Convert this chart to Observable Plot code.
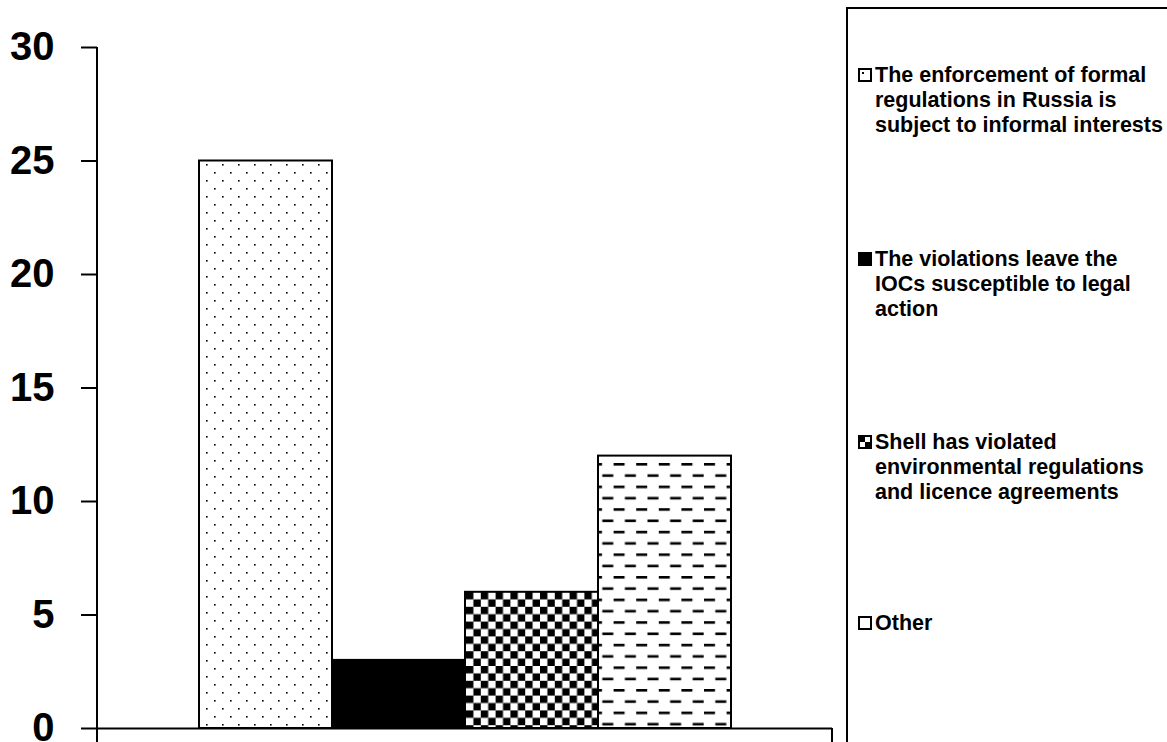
<!DOCTYPE html>
<html>
<head>
<meta charset="utf-8">
<script src="https://cdn.jsdelivr.net/npm/d3@7"></script>
<script src="https://cdn.jsdelivr.net/npm/@observablehq/plot@0.6"></script>
<style>
  html, body { margin: 0; padding: 0; background: #fff; }
  #wrap { position: relative; width: 1167px; height: 742px; overflow: hidden; background: #fff;
          font-family: "Liberation Sans", Arial, sans-serif; }
  #chart { position: absolute; left: 0; top: 0; }
  #legend { position: absolute; left: 846px; top: 7px; width: 340px; height: 760px;
            border-left: 2px solid #000; border-top: 2px solid #000; box-sizing: border-box; }
  .entry { position: absolute; left: 10px; font-weight: bold; font-size: 21.5px; line-height: 25px; color: #000; }
  .entry svg { position: absolute; left: 0; top: 5px; }
  .entry .txt { margin-left: 17px; white-space: nowrap; }
</style>
</head>
<body>
<div id="wrap">
  <div id="chart"></div>
  <div id="legend"></div>
</div>
<script>
// ---- data ----
const series = [
  "The enforcement of formal regulations in Russia is subject to informal interests",
  "The violations leave the IOCs susceptible to legal action",
  "Shell has violated environmental regulations and licence agreements",
  "Other"
];
const values = [25, 3, 6, 12];
const legendLines = [
  ["The enforcement of formal", "regulations in Russia is", "subject to informal interests"],
  ["The violations leave the", "IOCs susceptible to legal", "action"],
  ["Shell has violated", "environmental regulations", "and licence agreements"],
  ["Other"]
];
const yTicks = [0, 5, 10, 15, 20, 25, 30];
const fills = ["url(#p-dots)", "#000", "url(#p-check)", "url(#p-dash)"];

const data = series.map((s, i) => ({series: s, value: values[i]}));

const svg = Plot.plot({
  width: 847,
  height: 742,
  marginLeft: 97,
  marginRight: 15,
  marginTop: 47,
  marginBottom: 14,
  style: {fontFamily: "'Liberation Sans', Arial, sans-serif", background: "#fff", color: "#000"},
  x: {type: "band", domain: series, padding: 0, insetLeft: 100, insetRight: 100, axis: null},
  y: {domain: [0, 30]},
  color: {type: "ordinal", domain: series, range: fills},
  marks: [
    Plot.barY(data, {x: "series", y: "value", fill: "series", stroke: "#000", strokeWidth: 2}),
    Plot.ruleY([0], {stroke: "#000", strokeWidth: 2}),
    Plot.axisY({ticks: yTicks, label: null, tickSize: 16, tickPadding: 27, fontSize: 40, fontWeight: "bold",
                stroke: "#000", strokeWidth: 2, fill: "#000"})
  ]
});

// patterns and axis chrome
const s = d3.select(svg);
const defs = s.insert("defs", ":first-child");
// dots
const pd = defs.append("pattern").attr("id", "p-dots").attr("patternUnits", "userSpaceOnUse")
  .attr("width", 16).attr("height", 16).attr("x", 206).attr("y", 164);
pd.append("rect").attr("width", 16).attr("height", 16).attr("fill", "#fff");
pd.append("rect").attr("x", 0).attr("y", 0).attr("width", 1.6).attr("height", 1.6).attr("fill", "#000");
pd.append("rect").attr("x", 8).attr("y", 8).attr("width", 1.6).attr("height", 1.6).attr("fill", "#000");
// checker
const c = 7.4;
const pc = defs.append("pattern").attr("id", "p-check").attr("patternUnits", "userSpaceOnUse")
  .attr("width", 2 * c).attr("height", 2 * c).attr("x", 466).attr("y", 592);
pc.append("rect").attr("width", 2 * c).attr("height", 2 * c).attr("fill", "#fff");
pc.append("rect").attr("x", 0).attr("y", 0).attr("width", c).attr("height", c).attr("fill", "#000");
pc.append("rect").attr("x", c).attr("y", c).attr("width", c).attr("height", c).attr("fill", "#000");
// dashes
const dw = 22.6;
const pdash = defs.append("pattern").attr("id", "p-dash").attr("patternUnits", "userSpaceOnUse")
  .attr("width", dw).attr("height", dw).attr("x", 591).attr("y", 463);
pdash.append("rect").attr("width", dw).attr("height", dw).attr("fill", "#fff");
pdash.append("rect").attr("x", 0).attr("y", 0).attr("width", 11).attr("height", 2.6).attr("fill", "#000");
pdash.append("rect").attr("x", dw / 2).attr("y", dw / 2).attr("width", 11).attr("height", 2.6).attr("fill", "#000");

const yScale = svg.scale("y");
const y0 = yScale.apply(0);
const yTop = yScale.apply(30);
const xLeft = 97, xRight = 847 - 15;
s.append("line").attr("x1", xLeft).attr("x2", xLeft).attr("y1", yTop).attr("y2", 742)
  .attr("stroke", "#000").attr("stroke-width", 2);
s.append("line").attr("x1", xRight).attr("x2", xRight).attr("y1", y0).attr("y2", 742)
  .attr("stroke", "#000").attr("stroke-width", 2);

document.getElementById("chart").appendChild(svg);

// legend
const legend = d3.select("#legend");
const tops = [54, 238, 421, 602];
legendLines.forEach((lines, i) => {
  const e = legend.append("div").attr("class", "entry").style("top", tops[i] + "px");
  const ic = e.append("svg").attr("width", 14).attr("height", 14);
  ic.append("rect").attr("x", 1).attr("y", 1).attr("width", 12).attr("height", 12)
    .attr("fill", i === 1 ? "#000" : "#fff").attr("stroke", "#000").attr("stroke-width", 2);
  if (i === 0) ic.append("rect").attr("x", 4).attr("y", 4).attr("width", 2).attr("height", 2).attr("fill", "#000");
  if (i === 2) {
    ic.append("rect").attr("x", 1).attr("y", 1).attr("width", 6).attr("height", 6).attr("fill", "#000");
    ic.append("rect").attr("x", 7).attr("y", 7).attr("width", 6).attr("height", 6).attr("fill", "#000");
  }
  e.append("div").attr("class", "txt").html(lines.join("<br>"));
});
</script>
</body>
</html>
